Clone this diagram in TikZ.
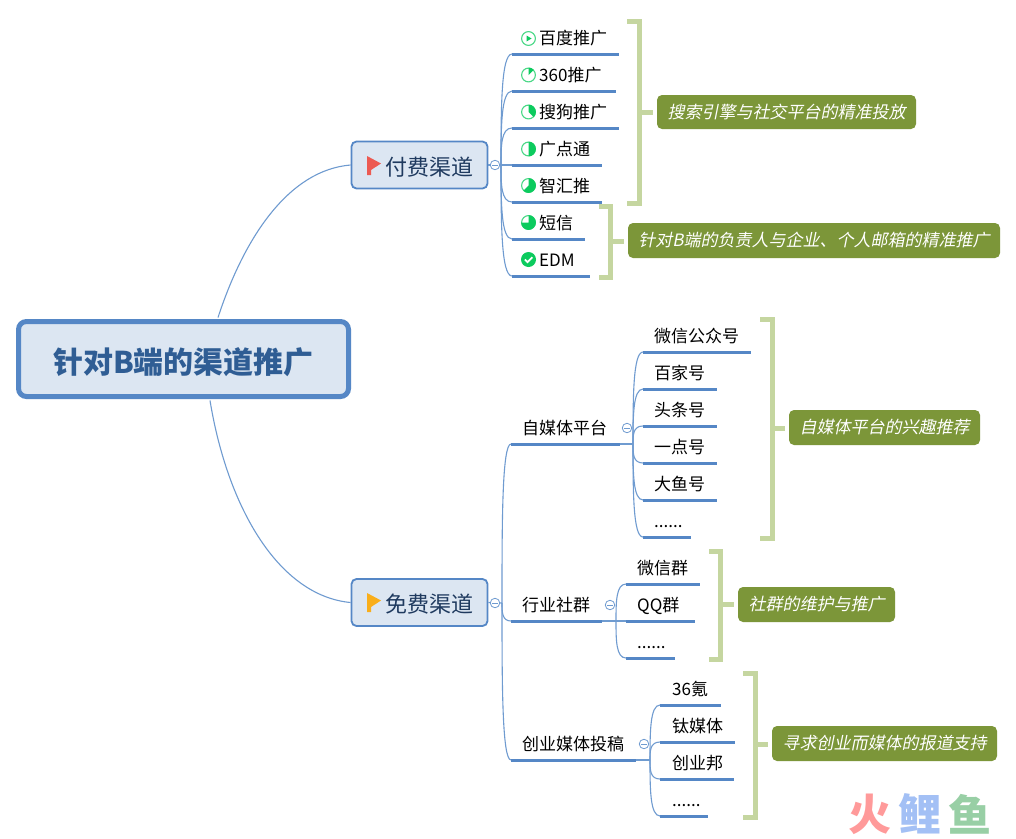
\documentclass[tikz,border=0pt]{standalone}
\usepackage{fontspec}
\setmainfont{Noto Sans CJK SC}
\newfontfamily\cjkslant[FakeSlant=0.2]{Noto Sans CJK SC}
\usetikzlibrary{calc}
\definecolor{blueL}{HTML}{5587C6}
\definecolor{blueT}{HTML}{6F9BD0}
\definecolor{paleB}{HTML}{DCE6F2}
\definecolor{titleC}{HTML}{2F5D94}
\definecolor{subC}{HTML}{1F3A5F}
\definecolor{brkC}{HTML}{C5D6A0}
\definecolor{labC}{HTML}{7C9639}
\definecolor{iconG}{HTML}{0CCB5E}
\definecolor{flagR}{HTML}{EC5A52}
\definecolor{flagY}{HTML}{F9AE1B}
\definecolor{wmR}{HTML}{FF9A9A}
\definecolor{wmB}{HTML}{A3C0F5}
\definecolor{wmG}{HTML}{98CFA5}
\tikzset{
  x=1pt,y=-1pt,
  central/.style={draw=blueL,line width=5pt,fill=paleB,rounded corners=8pt,minimum width=330pt,minimum height=75pt,inner sep=0pt,text=titleC,font=\fontsize{30}{34}\selectfont\bfseries,text height=30pt,text depth=2pt},
  sub/.style={draw=blueL,line width=1.8pt,fill=paleB,rounded corners=5pt,minimum width=136pt,minimum height=47pt,inner sep=0pt,text=subC,font=\fontsize{22}{26}\selectfont,text height=22pt,text depth=2pt},
  leaftext/.style={anchor=west,inner sep=0pt,text=black,font=\fontsize{17}{20}\selectfont,text height=14.5pt,text depth=2pt},
  under/.style={draw=blueL,line width=3pt},
  twig/.style={draw=blueT,line width=1.1pt},
  coll/.style={draw=blueT,fill=white,circle,line width=.8pt,minimum size=9.5pt,inner sep=0pt},
  brk/.style={draw=brkC,line width=5pt,miter limit=10},
  lab/.style={fill=labC,rounded corners=5pt,inner sep=0pt,text=white,font=\fontsize{17}{20}\selectfont\cjkslant},
  wm/.style={inner sep=0pt,font=\fontsize{43}{48}\selectfont\bfseries},
}
% name, junction, x1, x2, y, text x, text
\newcommand\leaf[7]{%
  \coordinate (#1s) at (#3,#5);
  \coordinate (#1e) at (#4,#5);
  \node[leaftext] (#1) at (#6,#5-16) {#7};
  \draw[twig] (#2) .. controls ($(#2 |- #1s)!0.5!(#2)$) and ($(#2 |- #1s)$) .. (#1s);
  \draw[under] (#1s) -- (#1e);
}
% name, x, y
\newcommand\collapse[3]{%
  \node[coll] (#1) at (#2,#3) {};
  \draw[blueT,line width=.8pt] ($(#1)+(-2.8,0)$) -- ($(#1)+(2.8,0)$);
}
% name, x1, x2, y1, y2, ytick, xtickend
\newcommand\bracket[7]{%
  \coordinate (#1t) at (#2,#4);
  \coordinate (#1b) at (#2,#5);
  \coordinate (#1m) at (#3,#6);
  \coordinate (#1n) at (#7,#6);
  \draw[brk] (#1t) -- (#3,#4) -- (#3,#5) -- (#1b);
  \draw[brk] (#1m) -- (#1n);
}
\newcommand\pieicon[3]{% x,y,fraction
  \begin{scope}[shift={(#1,#2)},y=1pt]
    \draw[iconG!75!white,line width=1.1pt] (0,0) circle[radius=6.9];
    \fill[iconG] (0,0) -- (90:7.4) arc[start angle=90,delta angle=-#3*360,radius=7.4] -- cycle;
  \end{scope}
}
\begin{document}
\begin{tikzpicture}
\useasboundingbox (0,0) rectangle (1016,838);
\fill[white] (0,0) rectangle (1016,838);

\node[central] (root) at (183.5,359) {针对B端的渠道推广};
\node[sub] (paid) at (419.5,165) {\hspace*{19pt}付费渠道};
\node[sub] (free) at (419.5,602.5) {\hspace*{19pt}免费渠道};
\draw[twig] (218,317.5) .. controls (245,235) and (290,170) .. (paid.west);
\draw[twig] (210,400.5) .. controls (228,510) and (280,596) .. (free.west);

% flags
\fill[flagR] (367,156) -- (381,163.5) -- (371,170) -- (371,175) -- (367,175) -- cycle;
\fill[flagY] (367,593) -- (381,600.5) -- (371,607) -- (371,612) -- (367,612) -- cycle;

% paid branch
\coordinate (Ja) at (501,165);
\draw[twig] (paid.east) -- (512,165);
\collapse{ca}{495}{165}
\leaf{baidu}{Ja}{512}{619}{54}{539}{百度推广}
\leaf{san}{Ja}{512}{616}{91}{539}{360推广}
\leaf{sogou}{Ja}{512}{619}{128}{539}{搜狗推广}
\leaf{gdt}{Ja}{512}{602}{165}{539}{广点通}
\leaf{zhi}{Ja}{512}{602}{202}{539}{智汇推}
\leaf{sms}{Ja}{512}{585}{239}{539}{短信}
\leaf{edm}{Ja}{512}{590}{276}{539}{EDM}

% progress icons
\begin{scope}[shift={(528.5,38.5)},y=1pt]
  \draw[iconG!75!white,line width=1.1pt] (0,0) circle[radius=6.9];
  \fill[iconG] (-2,3) -- (3,0) -- (-2,-3) -- cycle;
\end{scope}
\pieicon{528.5}{75}{0.125}
\pieicon{528.5}{112}{0.375}
\pieicon{528.5}{149}{0.5}
\pieicon{528.5}{185.5}{0.625}
\pieicon{528.5}{222.5}{0.75}
\begin{scope}[shift={(528.5,259.5)},y=1pt]
  \fill[iconG] (0,0) circle[radius=7.5];
  \draw[white,line width=1.7pt] (-3.6,0) -- (-1,-2.6) -- (3.8,2.2);
\end{scope}

\bracket{ba}{627}{639.5}{21.5}{203}{112}{653}
\bracket{bb}{599}{610}{206}{277}{241}{624}
\node[lab,minimum width=259pt,minimum height=34pt] (la) at (786.5,112) {搜索引擎与社交平台的精准投放};
\node[lab,minimum width=372pt,minimum height=35pt] (lb) at (814,240.5) {针对B端的负责人与企业、个人邮箱的精准推广};

% free branch
\coordinate (Jb) at (502,603);
\draw[twig] (free.east) -- (Jb);
\collapse{cb}{495}{603}
\leaf{zmt}{Jb}{511}{620}{444}{522}{自媒体平台}
\leaf{hy}{Jb}{511}{602}{621}{522}{行业社群}
\leaf{cy}{Jb}{511}{636}{760}{522}{创业媒体投稿}

% self-media
\coordinate (Jc) at (633,444);
\draw[twig] (zmte) -- (Jc);
\collapse{cc}{627}{428}
\leaf{wx}{Jc}{643}{751}{352}{654}{微信公众号}
\leaf{bjh}{Jc}{643}{717}{389}{654}{百家号}
\leaf{tt}{Jc}{643}{717}{426}{654}{头条号}
\leaf{yd}{Jc}{643}{717}{463}{654}{一点号}
\leaf{dy}{Jc}{643}{717}{500}{654}{大鱼号}
\leaf{mo}{Jc}{643}{691}{537}{654}{......}
\bracket{bc}{760}{772}{319}{538}{428}{785}
\node[lab,minimum width=191pt,minimum height=35pt] (lc) at (884.5,427.5) {自媒体平台的兴趣推荐};

% community
\coordinate (Jd) at (616,621);
\draw[twig] (hye) -- (Jd);
\collapse{cd}{610}{605}
\leaf{wq}{Jd}{626}{700}{584}{637}{微信群}
\leaf{qq}{Jd}{626}{695}{621}{637}{QQ群}
\leaf{mq}{Jd}{626}{675}{658}{637}{......}
\bracket{bd}{709}{720}{551}{659}{604}{734}
\node[lab,minimum width=157pt,minimum height=35pt] (ld) at (816.5,604.5) {社群的维护与推广};

% startup media
\coordinate (Je) at (650,760);
\draw[twig] (cye) -- (Je);
\collapse{ce}{644}{744}
\leaf{kr}{Je}{660}{721}{705}{672}{36氪}
\leaf{tai}{Je}{660}{735}{742}{672}{钛媒体}
\leaf{cyb}{Je}{660}{734}{779}{672}{创业邦}
\leaf{mc}{Je}{660}{708}{816}{672}{......}
\bracket{be}{743}{755}{673}{817}{744}{768}
\node[lab,minimum width=225pt,minimum height=35pt] (le) at (884.5,743.5) {寻求创业而媒体的报道支持};

% watermark
\node[wm,text=wmR] (w1) at (870,814) {火};
\node[wm,text=wmB] (w2) at (920,814) {鲤};
\node[wm,text=wmG] (w3) at (970,814) {鱼};
\end{tikzpicture}
\end{document}
